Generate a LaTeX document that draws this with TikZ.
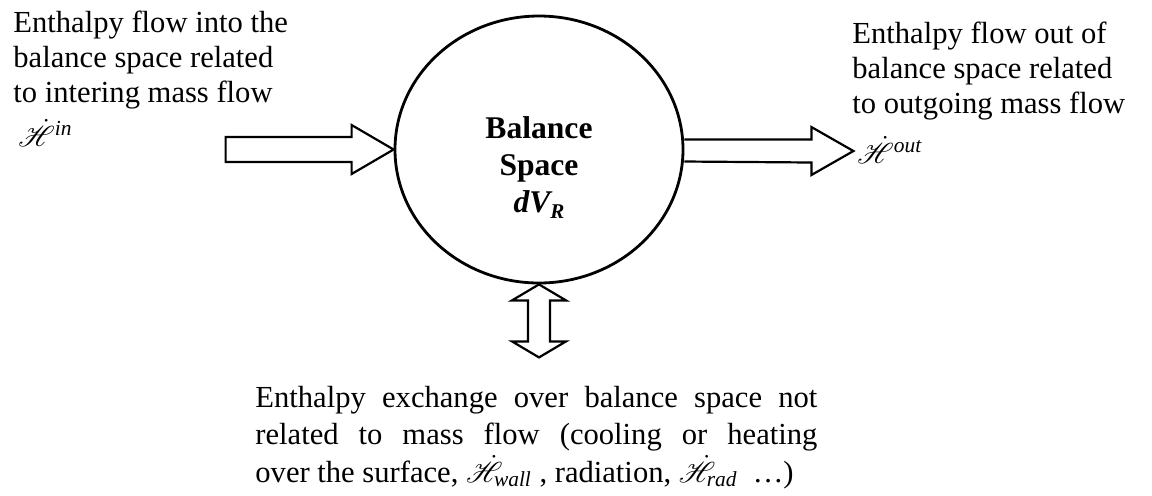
\documentclass[tikz,border=0pt]{standalone}
\usepackage{fontspec}
\setmainfont{Liberation Serif}
\usepackage{amsmath}
\usepackage{mathrsfs}
\usetikzlibrary{shapes.geometric,calc}
\newcommand{\Hdot}{\dot{\mathscr{H}}}
\begin{document}
\begin{tikzpicture}[x=0.5pt,y=-0.5pt,
  txt/.style={inner sep=0pt, anchor=base west, font=\fontsize{15.3pt}{17.5pt}\selectfont},
  ctxt/.style={inner sep=0pt, anchor=base, font=\fontsize{15.8pt}{18pt}\selectfont\bfseries},
  blockarrow/.style={draw=black, line width=1.1pt, line join=miter},
  balance/.style={ellipse, draw=black, line width=1.4pt, minimum width=144pt, minimum height=133.5pt, inner sep=0pt}]
\useasboundingbox (0,0) rectangle (1152,495);
% balance space
\node[balance] (bs) at (539,149.5) {};
\node[ctxt] (bsL1) at (539,138) {Balance};
\node[ctxt] (bsL2) at (539,175) {Space};
\node[ctxt] (bsL3) at (539,212) {\textit{dV\raisebox{-0.22em}{\fontsize{10.5pt}{12pt}\selectfont R}}};
% in arrow
\coordinate (inTail) at ($(bs.west)+(-168,0)$);
\draw[blockarrow] ($(inTail)+(0,-12.5)$) -- ($(bs.west)+(-42,-12.5)$) -- ($(bs.west)+(-42,-24.5)$)
  -- (bs.west) -- ($(bs.west)+(-42,24.5)$) -- ($(bs.west)+(-42,12.5)$) -- ($(inTail)+(0,12.5)$) -- cycle;
% out arrow
\coordinate (outTip) at ($(bs.east)+(169,1.5)$);
\draw[blockarrow] ($(bs.east)+(0,-10)$) -- ($(outTip)+(-42,-11.5)$) -- ($(outTip)+(-42,-24)$)
  -- (outTip) -- ($(outTip)+(-42,24)$) -- ($(outTip)+(-42,11.5)$) -- ($(bs.east)+(0,12)$);
% exchange double arrow
\coordinate (exTip) at ($(bs.south)+(0,73)$);
\draw[blockarrow] (bs.south) -- ($(bs.south)+(27,16)$) -- ($(bs.south)+(11,16)$) -- ($(exTip)+(11,-16)$)
  -- ($(exTip)+(27,-16)$) -- (exTip) -- ($(exTip)+(-27,-16)$) -- ($(exTip)+(-11,-16)$)
  -- ($(bs.south)+(-11,16)$) -- ($(bs.south)+(-27,16)$) -- cycle;
% left text
\node[txt] (inL1) at (13,32) {Enthalpy flow into the};
\node[txt] (inL2) at (13,67) {balance space related};
\node[txt] (inL3) at (13,102) {to intering mass flow};
\node[txt] (inH) at (18,146) {$\Hdot^{\textit{in}}$};
% right text
\node[txt] (outL1) at (852,43) {Enthalpy flow out of};
\node[txt] (outL2) at (852,78) {balance space related};
\node[txt] (outL3) at (852,113) {to outgoing mass flow};
\node[txt] (outH) at (857,163) {$\Hdot^{\textit{out}}$};
% bottom text
\node[txt] (exL1) at (255,407) {\makebox[281pt][s]{Enthalpy exchange over balance space not}};
\node[txt] (exL2) at (255,444) {\makebox[281pt][s]{related to mass flow (cooling or heating}};
\node[txt] (exL3) at (255,482) {over the surface, $\Hdot_{\textit{wall}}$\ , radiation, $\Hdot_{\textit{rad}}$\ \ …)};
\end{tikzpicture}
\end{document}
